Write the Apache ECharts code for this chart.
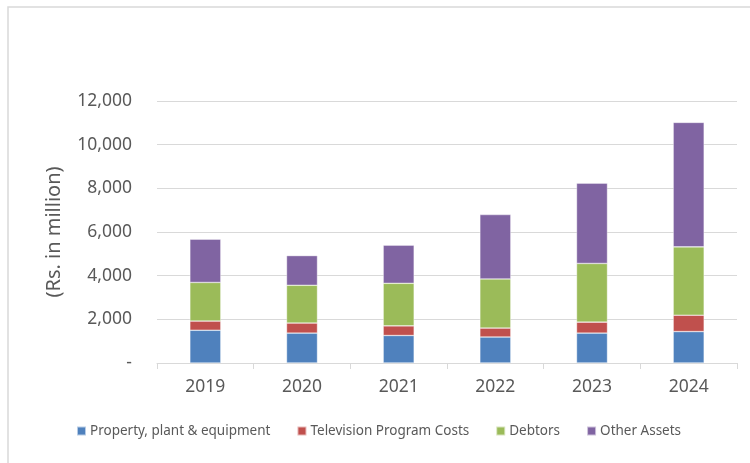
<!DOCTYPE html>
<html>
<head>
<meta charset="utf-8">
<script src="https://cdn.jsdelivr.net/npm/echarts@6/dist/echarts.min.js"></script>
<style>
  html, body { margin: 0; padding: 0; background: #fff; }
  #chart { width: 750px; height: 463px; }
</style>
</head>
<body>
<div id="chart"></div>
<script>
  // values (Rs. in million)
  const years = ["2019", "2020", "2021", "2022", "2023", "2024"];
  const ppe = [1500, 1370, 1260, 1190, 1370, 1440];
  const tvCosts = [420, 460, 440, 410, 500, 750];
  const debtors = [1770, 1730, 1950, 2250, 2690, 3130];
  const otherAssets = [1980, 1360, 1750, 2950, 3680, 5700];
  const yTicks = { min: 0, max: 12000, interval: 2000 };

  const textColor = "#595959";
  const gridColor = "#d9d9d9";
  const font = "'Noto Sans', 'Open Sans', sans-serif";

  const chart = echarts.init(document.getElementById("chart"));

  function bar(name, data, color) {
    return {
      name: name,
      type: "bar",
      stack: "total",
      barWidth: 31,
      data: data,
      itemStyle: { color: color, borderColor: "rgba(255,255,255,0.6)", borderWidth: 0.6 }
    };
  }

  chart.setOption({
    backgroundColor: "#fff",
    animation: false,
    textStyle: { fontFamily: font },
    graphic: [{
      type: "rect",
      shape: { x: 8, y: 7, width: 800, height: 500 },
      style: { fill: null, stroke: "#d9d9d9", lineWidth: 1.5 },
      silent: true
    }],
    grid: { left: 157, right: 13, top: 101, bottom: 100 },
    legend: {
      left: 76,
      top: 424,
      padding: 0,
      itemWidth: 9,
      itemHeight: 9,
      itemGap: 26,
      icon: "rect",
      textStyle: { color: textColor, fontSize: 13.5, fontFamily: font, padding: [0, 0, 0, -1] }
    },
    xAxis: {
      type: "category",
      data: years,
      axisLine: { lineStyle: { color: gridColor, width: 1 } },
      axisTick: { show: true, length: 6, lineStyle: { color: gridColor } },
      axisLabel: { color: textColor, fontSize: 17.5, margin: 15, fontFamily: font }
    },
    yAxis: {
      type: "value",
      min: yTicks.min,
      max: yTicks.max,
      interval: yTicks.interval,
      name: "(Rs. in million)",
      nameLocation: "middle",
      nameGap: 93,
      nameTextStyle: { color: textColor, fontSize: 20, fontFamily: font },
      axisLine: { show: false },
      axisTick: { show: false },
      splitLine: { lineStyle: { color: gridColor, width: 1 } },
      axisLabel: {
        color: textColor,
        fontSize: 17.5,
        margin: 25,
        fontFamily: font,
        formatter: function (v) { return v === 0 ? "-" : v.toLocaleString("en-US"); }
      }
    },
    series: [
      bar("Property, plant & equipment", ppe, "#4f81bd"),
      bar("Television Program Costs", tvCosts, "#c0504d"),
      bar("Debtors", debtors, "#9bbb59"),
      bar("Other Assets", otherAssets, "#8064a2")
    ]
  });
</script>
</body>
</html>
